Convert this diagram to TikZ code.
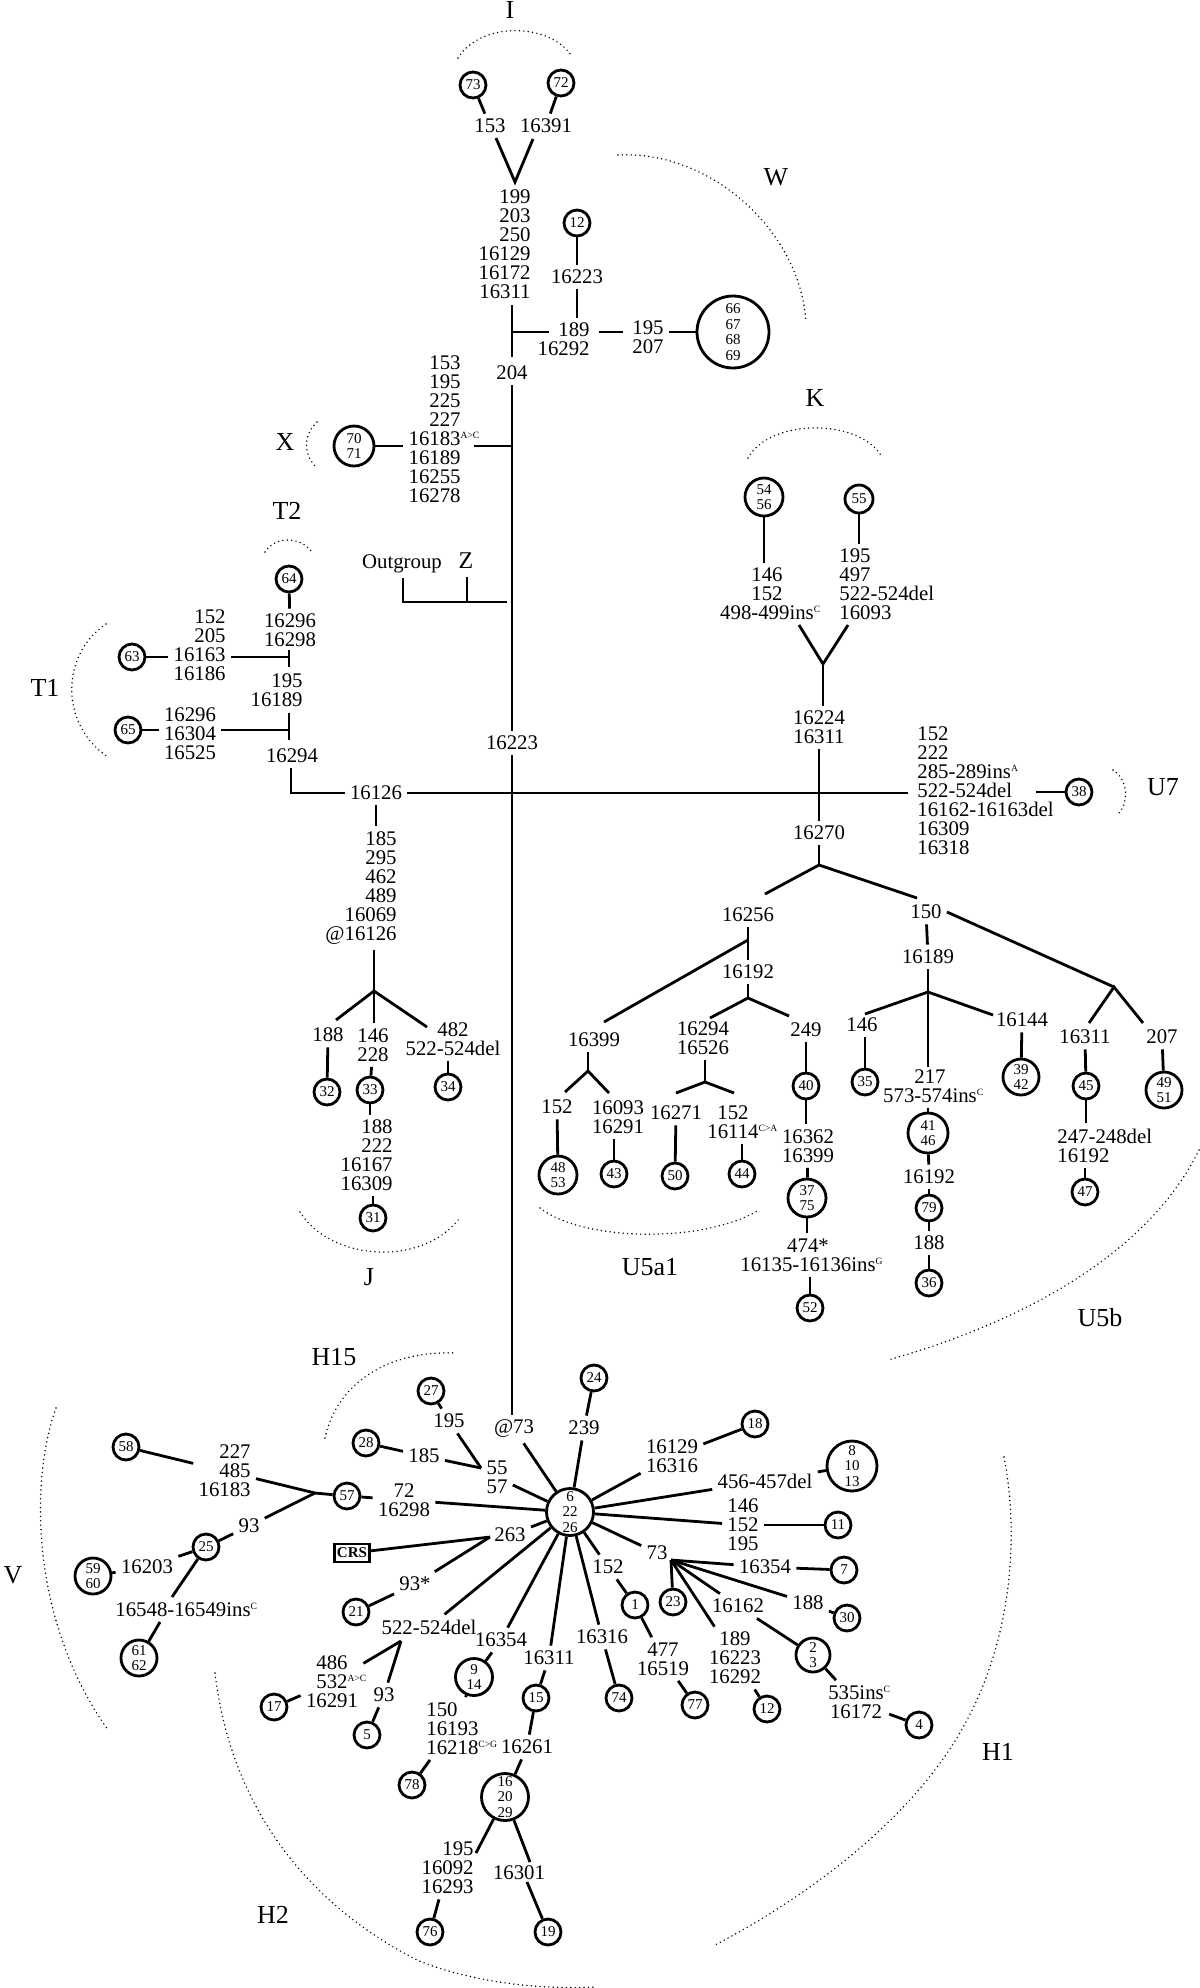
\documentclass[tikz,border=0pt]{standalone}
\usepackage{fontspec}
\setmainfont{Liberation Serif}
\newcommand{\myss}[1]{\rlap{\textsuperscript{\fontsize{4.8pt}{5pt}\selectfont #1}}}
\begin{document}
\begin{tikzpicture}[x=0.5pt,y=-0.5pt,line width=1.4pt,
 lbl/.style={inner sep=2pt,font=\fontsize{10.4pt}{9.5pt}\selectfont,align=center},
 lr/.style={lbl,align=right},
 ll/.style={lbl,align=left},
 hp/.style={circle,draw,inner sep=0pt,font=\fontsize{7.5pt}{7.8pt}\selectfont,align=center},
 hs/.style={hp,minimum size=13pt},
 hm/.style={hp,minimum size=19pt},
 hl/.style={hp,minimum size=23.5pt},
 grp/.style={inner sep=0pt,font=\fontsize{13pt}{14pt}\selectfont},
 hap/.style={line width=0.8pt,line cap=round,dash pattern=on 0pt off 2.2pt}]
\useasboundingbox (0,0) rectangle (1200,1988);
% ---------- I and W ----------
\node[grp] (gI) at (510,10) {I};
\draw[hap] (458,58) .. controls (480,22) and (548,22) .. (571,55);
\node[hs] (c73) at (473,85) {73};
\node[hs] (c72) at (561,83) {72};
\node[lbl] (t153) at (490,126) {153};
\node[lbl] (t16391) at (546,126) {16391};
\draw (c73) -- (t153);
\draw (c72) -- (t16391);
\coordinate (vIl) at (496,138);
\coordinate (vI) at (515,182);
\coordinate (vIr) at (533,139);
\draw (vIl) -- (vI) -- (vIr);
\node[lr,anchor=east] (sW) at (536,244.5) {199\\203\\250\\16129\\16172\\16311};
\node[hs] (c12a) at (577,223) {12};
\node[lbl] (t16223a) at (577,277) {16223};
\draw (c12a) -- (t16223a);
\node[lr,anchor=east] (t189) at (595,339.5) {189\\16292};
\draw (t16223a) -- (t16223a |- t189.north);
\coordinate (wTa) at (512,305);
\coordinate (wTb) at (512,357);
\coordinate (wJ) at (512,332);
\coordinate (wE) at (549,332);
\draw (wTa) -- (wTb);
\draw (wJ) -- (wE);
\node[lbl] (t195a) at (648,337.5) {195\\207};
\node[hp,minimum size=36pt] (cW) at (733,332) {66\\67\\68\\69};
\coordinate (wF) at (599,332);
\coordinate (wG) at (623,332);
\draw (wF) -- (wG);
\draw (cW) -- (cW -| t195a.east);
\node[lbl] (t204) at (512,373) {204};
\node[grp] (gW) at (776,177) {W};
\draw[hap] (618,155) .. controls (710,150) and (800,230) .. (806,322);
% ---------- trunk ----------
\node[lbl] (t16223b) at (512,743) {16223};
\node[lbl] (tAt73) at (514,1429) {@73};
\draw (t204) -- (t16223b);
\draw (t16223b) -- (t16223b |- tAt73.north);
% ---------- X ----------
\node[lr,anchor=east] (sX) at (466,429.5) {153\\195\\225\\227\\16183\myss{A>C}\\16189\\16255\\16278};
\node[hp,minimum size=20pt] (cX) at (354,446) {70\\71};
\draw (cX) -- (cX -| sX.west);
\draw ([xshift=4pt]sX.east |- cX) -- (t204 |- cX);
\node[grp] (gX) at (285,442) {X};
\draw[hap] (317,422) .. controls (303,435) and (303,455) .. (317,468);
% ---------- Outgroup / Z ----------
\node[lbl] (tOut) at (402,564) {Outgroup};
\node[grp,font=\fontsize{12pt}{13pt}\selectfont] (gZ) at (466,561) {Z};
\coordinate (oA) at (403,578);
\coordinate (oB) at (403,602);
\coordinate (oC) at (507,602);
\coordinate (zA) at (467,577);
\coordinate (zB) at (467,602);
\draw (oA) -- (oB) -- (oC);
\draw (zA) -- (zB);
% ---------- T2 / T1 ----------
\node[grp] (gT2) at (287,511) {T2};
\draw[hap] (265,552) .. controls (275,536) and (300,536) .. (312,552);
\node[hs] (c64) at (289,579) {64};
\node[lbl] (t16296a) at (290,630.5) {16296\\16298};
\draw (c64) -- (t16296a);
\coordinate (t2a) at (289,650);
\coordinate (t2b) at (289,667);
\coordinate (t2m) at (289,657);
\draw (t2a) -- (t2b);
\node[lr,anchor=east] (s152) at (231,645.5) {152\\205\\16163\\16186};
\node[hs] (c63) at (132,657) {63};
\draw (c63) -- (c63 -| s152.west);
\draw (s152.east |- t2m) -- (t2m);
\node[lr,anchor=east] (t195b) at (308,690.5) {195\\16189};
\coordinate (t1a) at (289,713);
\coordinate (t1b) at (289,740);
\coordinate (t1m) at (289,730);
\draw (t1a) -- (t1b);
\node[lbl] (s16296) at (190,734) {16296\\16304\\16525};
\node[hs] (c65) at (128,730) {65};
\draw (c65) -- (c65 -| s16296.west);
\draw (s16296.east |- t1m) -- (t1m);
\node[lbl] (t16294) at (292,756) {16294};
\node[lbl] (t16126) at (376,793) {16126};
\coordinate (cnr) at (291,793);
\draw (t16294.south -| cnr) -- (cnr) -- (t16126.west);
\coordinate (hR) at (908,793);
\draw (t16126.east) -- (hR);
\node[grp] (gT1) at (45,688) {T1};
\draw[hap] (106,624) .. controls (60,655) and (60,725) .. (108,757);
% ---------- J ----------
\node[lr,anchor=east] (sJ) at (402,888) {185\\295\\462\\489\\16069\\@16126};
\draw (t16126) -- (t16126 |- sJ.north);
\coordinate (jJ) at (374,991);
\draw (sJ.south -| jJ) -- (jJ);
\coordinate (jJl) at (336,1020);
\coordinate (jJm) at (374,1023);
\coordinate (jJr) at (427,1027);
\draw (jJl) -- (jJ) -- (jJr);
\draw (jJ) -- (jJm);
\node[lbl] (t188a) at (328,1035) {188};
\node[lbl] (t146a) at (373,1045) {146\\228};
\node[lbl] (t482) at (453,1039) {482\\522-524del};
\node[hs] (c32) at (327,1092) {32};
\node[hs] (c33) at (370,1090) {33};
\node[hs] (c34) at (448,1087) {34};
\draw (t188a) -- (c32);
\draw (t146a) -- (c33);
\draw (t482.south -| c34) -- (c34);
\node[lr,anchor=east] (sJ2) at (398,1155.5) {188\\222\\16167\\16309};
\draw (c33) -- (c33 |- sJ2.north);
\node[hs] (c31) at (373,1218) {31};
\draw (c31) -- (c31 |- sJ2.south);
\node[grp] (gJ) at (369,1277) {J};
\draw[hap] (300,1212) .. controls (330,1260) and (420,1268) .. (459,1219);
% ---------- K ----------
\node[grp] (gK) at (815,398) {K};
\draw[hap] (748,458) .. controls (770,418) and (860,418) .. (882,457);
\node[hm] (c5456) at (764,497) {54\\56};
\node[hp,minimum size=14pt] (c55) at (859,499) {55};
\node[lbl] (sK1) at (767,594) {146\\152\\498-499ins\myss{C}};
\node[ll,anchor=west] (sK2) at (834,584.5) {195\\497\\522-524del\\16093};
\draw (c5456) -- (c5456 |- sK1.north);
\draw (c55) -- (c55 |- sK2.north);
\coordinate (kYl) at (799,625);
\coordinate (kY) at (823,664);
\coordinate (kYr) at (848,625);
\draw (kYl) -- (kY) -- (kYr);
\node[lbl] (s16224) at (819,727.5) {16224\\16311};
\draw (kY) -- (kY |- s16224.north);
\node[lbl] (t16270) at (819,833) {16270};
\draw (s16224) -- (t16270);
\coordinate (jU) at (819,865);
\draw (t16270) -- (jU);
% ---------- U7 ----------
\node[ll,anchor=west] (sU7) at (912,790.5) {152\\222\\285-289ins\myss{A}\\522-524del\\16162-16163del\\16309\\16318};
\node[hs] (c38) at (1079,792) {38};
\coordinate (u7e) at (1036,792);
\draw (c38) -- (u7e);
\node[grp] (gU7) at (1163,787) {U7};
\draw[hap] (1113,770) .. controls (1129,780) and (1129,805) .. (1117,815);
% ---------- U5 ----------
\coordinate (jUl) at (765,894);
\coordinate (jUr) at (917,898);
\draw (jUl) -- (jU) -- (jUr);
\node[lbl] (t16256) at (748,915) {16256};
\node[lbl] (t150) at (926,912) {150};
\coordinate (jA) at (748,940);
\node[lbl] (t16192a) at (748,972) {16192};
\draw (t16256) -- (t16192a);
\coordinate (jAd) at (604,1022);
\draw (jA) -- (jAd);
\coordinate (jB) at (748,998);
\draw (t16192a) -- (jB);
\coordinate (jBl) at (710,1018);
\coordinate (jBr) at (789,1016);
\draw (jBl) -- (jB) -- (jBr);
\node[lbl] (s16294) at (703,1038) {16294\\16526};
\node[lbl] (t249) at (806,1030) {249};
\node[lbl] (t16399a) at (594,1040) {16399};
\coordinate (jC) at (588,1071);
\draw (t16399a.south -| jC) -- (jC);
\coordinate (jCl) at (565,1092);
\coordinate (jCr) at (609,1093);
\draw (jCl) -- (jC) -- (jCr);
\node[lbl] (t152c) at (557,1107) {152};
\node[lbl] (s16093) at (618,1117) {16093\\16291};
\node[hm] (c4853) at (558,1175) {48\\53};
\node[hs] (c43) at (614,1174) {43};
\draw (t152c) -- (c4853);
\draw (s16093.south -| c43) -- (c43);
\coordinate (jD) at (705,1082);
\draw (s16294.south -| jD) -- (jD);
\coordinate (jDl) at (676,1093);
\coordinate (jDr) at (734,1093);
\draw (jDl) -- (jD) -- (jDr);
\node[lbl] (t16271) at (676,1113) {16271};
\node[lbl] (s152d) at (733,1122) {152\\16114\myss{C>A}};
\node[hs] (c50) at (675,1176) {50};
\node[hs] (c44) at (742,1174) {44};
\draw (t16271) -- (c50);
\draw (s152d.south -| c44) -- (c44);
\node[hs] (c40) at (806,1086) {40};
\draw (t249) -- (c40);
\node[lbl] (s16362) at (808,1146) {16362\\16399};
\draw (c40) -- (c40 |- s16362.north);
\node[hm] (c3775) at (807,1198) {37\\75};
\draw (s16362) -- (c3775);
\node[lbl] (s474) at (808,1255) {474*\\16135-16136ins\myss{G}};
\draw (c3775) -- (c3775 |- s474.north);
\node[hs] (c52) at (810,1308) {52};
\draw (c52) -- (c52 |- s474.south);
\node[grp] (gU5a1) at (650,1267) {U5a1};
\draw[hap] (540,1208) .. controls (580,1240) and (700,1245) .. (759,1210);
\node[lbl] (t16189b) at (928,957) {16189};
\draw (t150) -- (t16189b);
\coordinate (jE) at (928,992);
\coordinate (jEd) at (928,1067);
\draw (t16189b) -- (jEd);
\coordinate (jEl) at (865,1014);
\coordinate (jEr) at (993,1015);
\draw (jEl) -- (jE) -- (jEr);
\node[lbl] (t146b) at (862,1025) {146};
\node[hs] (c35) at (865,1082) {35};
\draw (c35 |- t146b.south) -- (c35);
\node[lbl] (t16144) at (1022,1020) {16144};
\node[hp,minimum size=18pt] (c3942) at (1021,1077) {39\\42};
\draw (t16144) -- (c3942);
\node[lbl] (s217) at (930,1086) {217\\573-574ins\myss{C}};
\node[hp,minimum size=20pt] (c4146) at (928,1133) {41\\46};
\draw (s217.south -| c4146) -- (c4146);
\node[lbl] (t16192c) at (929,1177) {16192};
\draw (c4146) -- (t16192c);
\node[hs] (c79) at (929,1208) {79};
\draw (t16192c) -- (c79);
\node[lbl] (t188b) at (929,1243) {188};
\draw (c79) -- (t188b);
\node[hs] (c36) at (929,1283) {36};
\draw (t188b) -- (c36);
\coordinate (jF) at (1114,987);
\draw (t150.east) -- (jF);
\coordinate (jFl) at (1089,1023);
\coordinate (jFr) at (1143,1023);
\draw (jFl) -- (jF) -- (jFr);
\node[lbl] (t16311c) at (1085,1037) {16311};
\node[lbl] (t207b) at (1162,1037) {207};
\node[hs] (c45) at (1086,1086) {45};
\draw (t16311c) -- (c45);
\node[ll,anchor=west] (s247) at (1052,1145.5) {247-248del\\16192};
\draw (c45) -- (c45 |- s247.north);
\node[hs] (c47) at (1085,1192) {47};
\draw (c47) -- (c47 |- s247.south);
\node[hp,minimum size=18pt] (c4951) at (1164,1090) {49\\51};
\draw (t207b) -- (c4951);
\node[grp] (gU5b) at (1100,1318) {U5b};
\draw[hap] (1199,1150) .. controls (1150,1250) and (1030,1320) .. (888,1360);
% ---------- H ----------
\node[hl] (cHub) at (570,1512) {6\\22\\26};
\draw (tAt73) -- (cHub);
\node[hs] (c24) at (594,1378) {24};
\node[lbl] (t239) at (584,1428) {239};
\draw (c24) -- (t239);
\draw (t239) -- (cHub);
\node[hs] (c18) at (755,1424) {18};
\node[lbl] (s16129) at (672,1456) {16129\\16316};
\draw (c18) -- (s16129);
\draw (s16129) -- (cHub);
\node[hp,minimum size=25pt] (c81013) at (852,1466) {8\\10\\13};
\node[lbl] (t456) at (765,1481) {456-457del};
\draw (c81013) -- (t456);
\draw (t456) -- (cHub);
\node[lbl] (s146c) at (743,1525) {146\\152\\195};
\node[hs] (c11) at (838,1525) {11};
\draw (cHub) -- (s146c);
\draw (s146c) -- (c11);
\node[lbl] (t73) at (657,1553) {73};
\draw (cHub) -- (t73);
\coordinate (j73) at (671,1560);
\node[lbl] (t16354b) at (765,1567) {16354};
\node[hs] (c7) at (844,1570) {7};
\draw (j73) -- (t16354b);
\draw (t16354b) -- (c7);
\node[lbl] (t188c) at (808,1603) {188};
\node[hs] (c30) at (847,1618) {30};
\draw (j73) -- (t188c);
\draw (t188c) -- (c30);
\node[lbl] (t16162) at (738,1606) {16162};
\draw (j73) -- (t16162);
\node[hs] (c23) at (673,1602) {23};
\draw (j73) -- (c23);
\node[lbl] (s189b) at (735,1658) {189\\16223\\16292};
\draw (j73) -- (s189b);
\node[hp,minimum size=17pt] (c23b) at (813,1655) {2\\3};
\draw (t16162) -- (c23b);
\node[lbl] (s535) at (856,1702) {535ins\myss{C}\\16172};
\draw (c23b) -- (s535);
\node[hs] (c4) at (919,1725) {4};
\draw (s535) -- (c4);
\node[hs] (c12b) at (767,1709) {12};
\draw (s189b) -- (c12b);
\node[lbl] (t263) at (510,1535) {263};
\draw (cHub) -- (t263);
\node[draw,line width=1.2pt,inner sep=1pt,minimum width=17.5pt,minimum height=9pt,font=\bfseries\fontsize{7.5pt}{8pt}\selectfont] (crs) at (352,1553) {CRS};
\coordinate (jCRS) at (490,1537);
\draw (crs) -- (jCRS);
\node[lbl] (t93s) at (415,1584) {93*};
\draw (jCRS) -- (t93s);
\node[hs] (c21) at (356,1612) {21};
\draw (t93s) -- (c21);
\node[lbl] (t522) at (429,1627) {522-524del};
\draw (cHub) -- (t522);
\coordinate (j522) at (401,1641);
\node[lbl] (s486) at (332,1682) {486\\532\myss{A>C}\\16291};
\draw (j522) -- (s486);
\node[lbl] (t93b) at (384,1695) {93};
\draw (j522) -- (t93b);
\node[hs] (c5) at (367,1735) {5};
\draw (t93b) -- (c5);
\node[hs] (c17) at (274,1707) {17};
\draw (s486) -- (c17);
\node[lbl] (t16354c) at (501,1640) {16354};
\draw (cHub) -- (t16354c);
\node[hp,minimum size=18.5pt] (c914) at (474,1677) {9\\14};
\draw (t16354c) -- (c914);
\node[ll,anchor=west] (s150) at (421,1728.5) {150\\16193\\16218\myss{C>G}};
\draw (c914) -- (s150);
\node[hs] (c78) at (412,1785) {78};
\draw (s150) -- (c78);
\node[lbl] (t16311b) at (549,1658) {16311};
\draw (cHub) -- (t16311b);
\node[hs] (c15) at (536,1698) {15};
\draw (t16311b) -- (c15);
\node[lbl] (t16261) at (527,1747) {16261};
\draw (c15) -- (t16261);
\node[hl] (c162029) at (505,1797) {16\\20\\29};
\draw (t16261) -- (c162029);
\node[lr,anchor=east] (s195c) at (479,1868) {195\\16092\\16293};
\coordinate (h29c) at (476,1853);
\draw (c162029) -- (h29c);
\node[lbl] (t16301) at (519,1873) {16301};
\coordinate (h29a) at (530,1862);
\draw (c162029) -- (h29a);
\node[hs] (c19) at (548,1932) {19};
\coordinate (h29b) at (527,1882);
\draw (h29b) -- (c19);
\node[hs] (c76) at (430,1932) {76};
\draw (s195c) -- (c76);
\node[lbl] (t16316b) at (602,1637) {16316};
\draw (cHub) -- (t16316b);
\node[hs] (c74) at (619,1698) {74};
\draw (t16316b) -- (c74);
\node[lbl] (t152e) at (608,1567) {152};
\draw (cHub) -- (t152e);
\node[hs] (c1) at (635,1605) {1};
\draw (t152e) -- (c1);
\node[lbl] (s477) at (663,1659) {477\\16519};
\draw (c1) -- (s477);
\node[hs] (c77) at (695,1705) {77};
\draw (s477) -- (c77);
% ---------- H15 ----------
\node[hs] (c27) at (431,1391) {27};
\node[lbl] (t195d) at (449,1421) {195};
\draw (c27) -- (t195d);
\coordinate (j55) at (481,1468);
\draw (t195d) -- (j55);
\node[hs] (c28) at (366,1443) {28};
\node[lbl] (t185) at (424,1456) {185};
\draw (c28) -- (t185);
\draw (t185) -- (j55);
\node[lbl] (s55) at (497,1477.5) {55\\57};
\draw (s55) -- (cHub);
\node[grp] (gH15) at (334,1357) {H15};
\draw[hap] (325,1438) .. controls (335,1390) and (380,1350) .. (456,1353);
% ---------- V ----------
\node[hs] (c58) at (126,1447) {58};
\node[lr,anchor=east] (s227) at (256,1471) {227\\485\\16183};
\draw (c58) -- (s227);
\coordinate (jV) at (315,1493);
\draw (s227) -- (jV);
\node[hs] (c57) at (347,1496) {57};
\draw (jV) -- (c57);
\node[lbl] (s72) at (404,1500) {72\\16298};
\draw (c57) -- (s72);
\draw (s72) -- (cHub);
\node[lbl] (t93c) at (249,1526) {93};
\draw (jV) -- (t93c);
\node[hs] (c25) at (206,1547) {25};
\draw (t93c) -- (c25);
\node[lbl] (t16203) at (147,1567) {16203};
\draw (c25) -- (t16203);
\node[hp,minimum size=18pt] (c5960) at (93,1576) {59\\60};
\draw (t16203) -- (c5960);
\node[lbl] (t16548) at (183,1610) {16548-16549ins\myss{C}};
\coordinate (v16548) at (172,1597);
\draw (c25) -- (v16548);
\node[hp,minimum size=18pt] (c6162) at (139,1658) {61\\62};
\coordinate (v16548b) at (160,1622);
\draw (v16548b) -- (c6162);
\node[grp] (gV) at (13,1575) {V};
\draw[hap] (56,1408) .. controls (30,1480) and (30,1620) .. (108,1730);
% ---------- H1 / H2 ----------
\node[grp] (gH1) at (998,1752) {H1};
\draw[hap] (1004,1457) .. controls (1020,1540) and (1010,1640) .. (967,1720) .. controls (920,1810) and (820,1890) .. (715,1945);
\node[grp] (gH2) at (273,1915) {H2};
\draw[hap] (215,1673) .. controls (230,1800) and (300,1900) .. (417,1960) .. controls (470,1982) and (540,1990) .. (595,1987);
\end{tikzpicture}
\end{document}
